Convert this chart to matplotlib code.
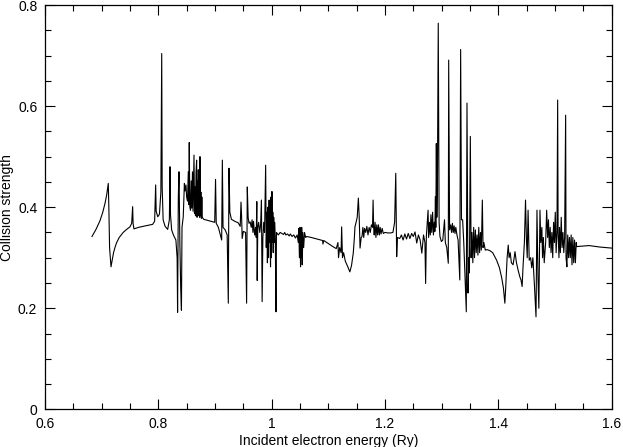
import matplotlib

matplotlib.use("Agg")
import matplotlib.pyplot as plt

# Collision strength vs incident electron energy
# (energy in Ry, collision strength). Split by energy band.
threshold_band = [
    (0.683, 0.342), (0.690, 0.356), (0.697, 0.373), (0.702, 0.390), (0.706, 0.408),
    (0.709, 0.425), (0.7117, 0.447), (0.7127, 0.400), (0.714, 0.320), (0.7165, 0.282),
    (0.7185, 0.295), (0.721, 0.310), (0.724, 0.322), (0.7265, 0.330), (0.731, 0.340),
    (0.738, 0.350), (0.744, 0.356), (0.750, 0.361), (0.7530, 0.368), (0.7547, 0.401),
    (0.7555, 0.368), (0.757, 0.357), (0.765, 0.360), (0.773, 0.362), (0.782, 0.364),
    (0.790, 0.366), (0.7935, 0.372), (0.7953, 0.444), (0.7962, 0.392), (0.799, 0.381),
    (0.802, 0.386), (0.8045, 0.430),
]

band_080 = [
    (0.806, 0.704), (0.8068, 0.440), (0.8085, 0.375), (0.812, 0.362), (0.8165, 0.356),
    (0.8195, 0.375), (0.8206, 0.480), (0.8215, 0.385), (0.8235, 0.355), (0.827, 0.344),
    (0.831, 0.335), (0.8332, 0.300), (0.8340, 0.192), (0.8353, 0.420), (0.8365, 0.470),
    (0.8380, 0.330), (0.8395, 0.240), (0.8408, 0.196), (0.8418, 0.360), (0.8440, 0.381),
    (0.8460, 0.447), (0.8472, 0.432), (0.8488, 0.444), (0.8500, 0.420), (0.8515, 0.412),
    (0.8529, 0.470), (0.8538, 0.405), (0.8546, 0.528), (0.8556, 0.401), (0.8568, 0.394),
    (0.8580, 0.452), (0.8590, 0.398), (0.8603, 0.470), (0.8612, 0.392), (0.8622, 0.460),
    (0.8630, 0.503), (0.8638, 0.388), (0.8648, 0.440), (0.8656, 0.383), (0.8666, 0.470),
    (0.8676, 0.493), (0.8684, 0.380), (0.8693, 0.452), (0.8700, 0.386), (0.8706, 0.474),
    (0.8714, 0.383), (0.8722, 0.440), (0.8729, 0.380), (0.8735, 0.500), (0.8743, 0.384),
    (0.8751, 0.430), (0.8759, 0.378), (0.8768, 0.420), (0.8776, 0.380), (0.8800, 0.376),
]

band_090 = [
    (0.8900, 0.373), (0.8995, 0.370), (0.9010, 0.455), (0.9022, 0.368), (0.9060, 0.360),
    (0.9095, 0.345), (0.9118, 0.335), (0.9130, 0.493), (0.9142, 0.360), (0.9180, 0.355),
    (0.9215, 0.345), (0.9235, 0.210), (0.9247, 0.477), (0.9262, 0.390), (0.9290, 0.376),
    (0.9350, 0.372), (0.9410, 0.369), (0.9445, 0.362), (0.9459, 0.410), (0.9470, 0.380),
    (0.9480, 0.338), (0.9500, 0.352), (0.9540, 0.350), (0.9558, 0.210), (0.9570, 0.440),
    (0.9585, 0.380),
]

band_100 = [
    (0.960, 0.368), (0.962, 0.371), (0.964, 0.360), (0.9655, 0.375), (0.967, 0.350),
    (0.968, 0.372), (0.970, 0.345), (0.9718, 0.360), (0.9728, 0.340), (0.9738, 0.411),
    (0.9745, 0.255), (0.9755, 0.360), (0.977, 0.370), (0.979, 0.350), (0.9805, 0.365),
    (0.982, 0.414), (0.9832, 0.213), (0.9845, 0.340), (0.986, 0.370), (0.9875, 0.350),
    (0.9894, 0.483), (0.9905, 0.320), (0.9915, 0.390), (0.9925, 0.290), (0.9935, 0.400),
    (0.9945, 0.300), (0.9955, 0.414), (0.9962, 0.330), (0.997, 0.400), (0.998, 0.282),
    (0.9988, 0.420), (0.9996, 0.300), (1.0005, 0.431), (1.0012, 0.330), (1.002, 0.390),
    (1.0028, 0.310), (1.0036, 0.380), (1.0045, 0.330), (1.0055, 0.370), (1.0065, 0.330),
    (1.0076, 0.193), (1.0085, 0.350), (1.0117, 0.345), (1.015, 0.350), (1.018, 0.348),
    (1.021, 0.346), (1.023, 0.350), (1.025, 0.345), (1.028, 0.347), (1.031, 0.343),
    (1.033, 0.347), (1.036, 0.342), (1.039, 0.345), (1.042, 0.339), (1.045, 0.345),
    (1.047, 0.330), (1.048, 0.358), (1.049, 0.300), (1.050, 0.360), (1.051, 0.282),
    (1.052, 0.350), (1.0525, 0.300), (1.053, 0.360), (1.054, 0.286), (1.055, 0.350),
    (1.0565, 0.320), (1.058, 0.350), (1.060, 0.340),
]

band_110 = [
    (1.062, 0.342), (1.070, 0.340), (1.080, 0.337), (1.090, 0.334), (1.0905, 0.327),
    (1.092, 0.334), (1.100, 0.328), (1.108, 0.322), (1.114, 0.318), (1.117, 0.330),
    (1.118, 0.300), (1.120, 0.320), (1.1225, 0.310), (1.1235, 0.361), (1.125, 0.300),
    (1.127, 0.310), (1.130, 0.293), (1.134, 0.283), (1.138, 0.272), (1.141, 0.285),
    (1.144, 0.309), (1.146, 0.340), (1.147, 0.361), (1.149, 0.370), (1.151, 0.380),
    (1.153, 0.418), (1.1545, 0.380), (1.156, 0.319), (1.158, 0.340), (1.1595, 0.342),
    (1.161, 0.360), (1.1625, 0.340), (1.164, 0.358), (1.166, 0.350), (1.168, 0.362),
    (1.170, 0.345), (1.172, 0.360), (1.174, 0.350), (1.176, 0.365), (1.178, 0.360),
    (1.179, 0.414), (1.180, 0.360), (1.181, 0.345), (1.1825, 0.370), (1.184, 0.340),
    (1.1855, 0.365), (1.187, 0.345), (1.1885, 0.365), (1.190, 0.345), (1.1915, 0.360),
    (1.193, 0.347), (1.195, 0.358), (1.197, 0.348), (1.200, 0.350), (1.205, 0.349),
    (1.210, 0.349), (1.214, 0.350), (1.217, 0.370), (1.219, 0.467), (1.2200, 0.370),
    (1.2206, 0.302), (1.222, 0.340), (1.226, 0.338), (1.229, 0.345), (1.232, 0.335),
    (1.235, 0.347), (1.238, 0.337), (1.241, 0.348), (1.244, 0.338), (1.247, 0.348),
    (1.250, 0.342), (1.253, 0.351), (1.256, 0.329), (1.259, 0.345), (1.262, 0.335),
    (1.265, 0.309), (1.268, 0.345), (1.2705, 0.330),
]

band_130 = [
    (1.2717, 0.249), (1.273, 0.342), (1.276, 0.394), (1.277, 0.340), (1.2785, 0.370),
    (1.280, 0.345), (1.281, 0.385), (1.2825, 0.350), (1.284, 0.390), (1.2855, 0.345),
    (1.287, 0.370), (1.288, 0.352), (1.289, 0.421), (1.2897, 0.360), (1.2906, 0.526),
    (1.2915, 0.380), (1.2925, 0.450), (1.294, 0.764), (1.2955, 0.370), (1.297, 0.342),
    (1.2995, 0.332), (1.302, 0.335), (1.305, 0.375), (1.3065, 0.330), (1.309, 0.320),
    (1.3117, 0.289), (1.3124, 0.691), (1.314, 0.355), (1.316, 0.365), (1.3175, 0.350),
    (1.319, 0.368), (1.3205, 0.350), (1.322, 0.363), (1.3235, 0.348), (1.325, 0.360),
    (1.327, 0.345), (1.329, 0.335), (1.332, 0.256), (1.3335, 0.712), (1.335, 0.375),
    (1.337, 0.375), (1.339, 0.330), (1.341, 0.270), (1.3435, 0.193), (1.3447, 0.606),
    (1.3465, 0.230), (1.348, 0.300), (1.349, 0.270), (1.3506, 0.540), (1.352, 0.300),
    (1.3535, 0.350), (1.355, 0.290), (1.3565, 0.360), (1.358, 0.300), (1.3595, 0.355),
    (1.361, 0.310), (1.3625, 0.345), (1.364, 0.305), (1.3655, 0.360), (1.367, 0.310),
    (1.3685, 0.350), (1.370, 0.315), (1.3718, 0.414), (1.373, 0.320), (1.3745, 0.330),
    (1.377, 0.315), (1.380, 0.316), (1.385, 0.314), (1.390, 0.310), (1.397, 0.295),
]

band_150 = [
    (1.402, 0.280), (1.406, 0.260), (1.409, 0.240), (1.4115, 0.210), (1.413, 0.240),
    (1.4155, 0.300), (1.4175, 0.325), (1.419, 0.300), (1.421, 0.310), (1.423, 0.290),
    (1.426, 0.286), (1.428, 0.300), (1.4294, 0.312), (1.432, 0.290), (1.435, 0.275),
    (1.438, 0.262), (1.440, 0.256), (1.442, 0.243), (1.4435, 0.280), (1.446, 0.330),
    (1.448, 0.414), (1.4495, 0.340), (1.451, 0.300), (1.4525, 0.394), (1.4545, 0.295),
    (1.457, 0.300), (1.459, 0.280), (1.461, 0.300), (1.4635, 0.250), (1.4665, 0.183),
    (1.4682, 0.394), (1.470, 0.260), (1.4715, 0.200), (1.4735, 0.394), (1.475, 0.330),
    (1.4768, 0.360), (1.478, 0.300), (1.4795, 0.340), (1.481, 0.290), (1.4835, 0.330),
    (1.4853, 0.394), (1.487, 0.340), (1.4885, 0.375), (1.490, 0.320), (1.4915, 0.360),
    (1.493, 0.310), (1.4945, 0.350), (1.496, 0.300), (1.4975, 0.370), (1.499, 0.330),
    (1.5005, 0.390), (1.502, 0.310), (1.5035, 0.350), (1.5047, 0.612), (1.5055, 0.350),
    (1.507, 0.300), (1.508, 0.360), (1.5095, 0.310), (1.511, 0.380), (1.5125, 0.320),
    (1.514, 0.350), (1.5155, 0.310), (1.517, 0.340), (1.5188, 0.582), (1.5195, 0.300),
    (1.521, 0.282), (1.5225, 0.345), (1.524, 0.300), (1.5255, 0.340), (1.527, 0.300),
    (1.5285, 0.345), (1.530, 0.286), (1.5315, 0.340), (1.533, 0.290), (1.5345, 0.335),
    (1.536, 0.290), (1.5375, 0.330), (1.5382, 0.322), (1.560, 0.324), (1.580, 0.321),
    (1.600, 0.319),
]

x_ticks = [0.6, 0.8, 1.0, 1.2, 1.4, 1.6]
x_tick_labels = ["0.6", "0.8", "1", "1.2", "1.4", "1.6"]
y_ticks = [0.0, 0.2, 0.4, 0.6, 0.8]
y_tick_labels = ["0", "0.2", "0.4", "0.6", "0.8"]


def main():
    plt.rcParams["font.family"] = ["Liberation Sans", "DejaVu Sans"]
    plt.rcParams["font.size"] = 10

    points = (threshold_band + band_080 + band_090 + band_100
              + band_110 + band_130 + band_150)
    energy = [p[0] for p in points]
    strength = [p[1] for p in points]

    fig = plt.figure(figsize=(6.23, 4.47), dpi=100)
    ax = fig.add_axes([0.0722, 0.0843, 0.9096, 0.9045])
    ax.plot(energy, strength, color="black", lw=0.8)

    ax.set_xlim(0.6, 1.6)
    ax.set_ylim(0, 0.8)
    ax.set_xticks(x_ticks)
    ax.set_xticklabels(x_tick_labels)
    ax.set_yticks(y_ticks)
    ax.set_yticklabels(y_tick_labels)
    ax.set_xticks([0.65 + 0.05 * i for i in range(19) if (i + 1) % 4], minor=True)
    ax.set_yticks([0.05 * i for i in range(1, 16) if i % 4], minor=True)
    ax.tick_params(which="both", direction="in", top=True, right=True, width=0.8)
    ax.tick_params(which="major", length=7.5, pad=5.5)
    ax.tick_params(which="minor", length=4)
    for s in ax.spines.values():
        s.set_linewidth(0.9)

    ax.set_xlabel("Incident electron energy (Ry)", labelpad=2)
    ax.set_ylabel("Collision strength", labelpad=3)

    fig.savefig("out.png", dpi=100)


if __name__ == "__main__":
    main()
